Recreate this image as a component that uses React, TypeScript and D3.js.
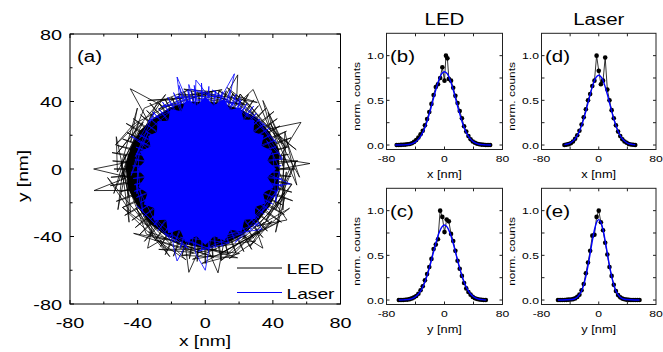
import * as d3 from 'd3'

const FONT = 'Liberation Sans, Arial, Helvetica, sans-serif'
const SX = 1.28 // glyphs in the figure are wider than plain Arial

// ---- panel (a): trajectories, polar [deg, r(nm)] ----
// dense part of the LED trace
const ledCore: [number, number][] = [
  [0, 44], [15, 45], [30, 44], [45, 43], [60, 41], [75, 40], [90, 40], [105, 41],
  [120, 42], [135, 43], [150, 45], [165, 46], [180, 47], [195, 47], [210, 46], [225, 46],
  [240, 46], [255, 46], [270, 47], [285, 46], [300, 45], [315, 44], [330, 44], [345, 45],
]
// jumps across the spot: each vertex leaves one hair at the rim
const ledHairs: [number, number][] = [
  [0, 53], [175, 55], [350, 52], [165, 54], [340, 55], [155, 51], [330, 54], [145, 52], [320, 51], [135, 49],
  [310, 53], [125, 48], [300, 55], [115, 47], [290, 53], [105, 47], [280, 55], [95, 45], [270, 56], [85, 46],
  [260, 54], [75, 48], [250, 55], [65, 49], [240, 53], [55, 50], [230, 56], [45, 51], [220, 54], [35, 52],
  [210, 55], [25, 53], [200, 56], [15, 51], [190, 57], [5, 55], [180, 54], [355, 51], [170, 56], [345, 53],
  [160, 52], [335, 50], [150, 54], [325, 55], [140, 50], [315, 52], [130, 51], [305, 50], [120, 48], [295, 54],
  [110, 46], [285, 52], [100, 47], [275, 53], [90, 46], [265, 55], [80, 47], [255, 53], [70, 48], [245, 56],
  [60, 51], [235, 52], [50, 49], [225, 55], [40, 53], [215, 53], [30, 51], [205, 54], [20, 54], [195, 52],
  [10, 50], [185, 56], [0, 53],
]
// jagged rim of the LED trace
const ledRing: [number, number][] = [
  [0, 50], [28, 46], [12, 55], [40, 44], [65, 49], [47, 43], [80, 47], [58, 45], [95, 42], [110, 47],
  [88, 44], [125, 49], [140, 44], [118, 50], [150, 47], [170, 53], [143, 46], [182, 52], [160, 56], [200, 48],
  [175, 50], [215, 55], [190, 47], [228, 52], [250, 46], [222, 57], [262, 50], [240, 55], [278, 48], [255, 53],
  [290, 56], [270, 47], [305, 52], [285, 55], [318, 47], [300, 50], [335, 55], [312, 46], [350, 52], [330, 48],
  [5, 54], [345, 47], [20, 51], [355, 56], [35, 47], [15, 49], [50, 53], [30, 45], [70, 47], [52, 50],
  [90, 45], [72, 43], [105, 49], [85, 46], [128, 45], [102, 48], [135, 51], [160, 47], [138, 54], [178, 50],
  [155, 45], [195, 56], [170, 48], [210, 51], [185, 58], [225, 48], [205, 54], [245, 53], [220, 46], [258, 55],
  [236, 51], [275, 52], [252, 48], [292, 54], [268, 56], [310, 49], [280, 51], [325, 54], [298, 47], [340, 50],
  [318, 56], [358, 48], [332, 52], [10, 47], [350, 55], [25, 52], [2, 46], [42, 50], [18, 48], [55, 46],
  [75, 50], [60, 44], [100, 45], [78, 48], [115, 46], [130, 53], [108, 44], [148, 50], [165, 55], [145, 48],
  [188, 50], [168, 46], [205, 57], [182, 49], [232, 50], [210, 47], [248, 56], [228, 50], [268, 49], [246, 47],
  [286, 52], [262, 54], [302, 46], [280, 55], [322, 50], [300, 53], [344, 49], [320, 47], [0, 50],
]
// far excursions of the LED trace
const ledWalk: [number, number][] = [
  [0, 44], [3, 62], [8, 44], [26, 63], [32, 45], [59, 55], [64, 42], [71, 59], [76, 41], [124, 45],
  [133, 65], [140, 44], [175, 46], [180, 66], [186, 46], [191, 67], [196, 46], [228, 47], [234, 58], [240, 47],
  [256, 48], [261, 62], [266, 47], [272, 48], [277, 62], [283, 47], [300, 46], [306, 58], [311, 45], [320, 50],
  [328, 57], [334, 46], [352, 46], [357, 44],
]
// dense part of the laser trace (jagged edge)
const laserCore: [number, number][] = [
  [0, 42], [7.5, 37], [15, 41], [22.5, 36], [30, 40], [37.5, 36], [45, 41], [52.5, 37], [60, 42], [67.5, 38],
  [75, 43], [82.5, 38], [90, 43], [97.5, 38], [105, 43], [112.5, 37], [120, 41], [127.5, 36], [135, 40], [142.5, 36],
  [150, 39], [157.5, 35], [165, 40], [172.5, 36], [180, 40], [187.5, 36], [195, 41], [202.5, 37], [210, 42], [217.5, 38],
  [225, 43], [232.5, 38], [240, 44], [247.5, 39], [255, 45], [262.5, 40], [270, 45], [277.5, 40], [285, 44], [292.5, 39],
  [300, 43], [307.5, 38], [315, 42], [322.5, 37], [330, 41], [337.5, 37], [345, 42], [352.5, 37],
]
const laserHairs: [number, number][] = [
  [2.5, 45], [177.5, 43], [352.5, 46], [167.5, 42], [342.5, 44], [157.5, 43], [332.5, 45], [147.5, 42], [322.5, 44], [137.5, 44],
  [312.5, 46], [127.5, 45], [302.5, 44], [117.5, 48], [292.5, 45], [107.5, 52], [282.5, 47], [97.5, 50], [272.5, 48], [87.5, 49],
  [262.5, 47], [77.5, 47], [252.5, 49], [67.5, 48], [242.5, 45], [57.5, 46], [232.5, 46], [47.5, 45], [222.5, 44], [37.5, 44],
  [212.5, 45], [27.5, 43], [202.5, 44], [17.5, 44], [192.5, 43], [7.5, 46], [182.5, 44], [357.5, 44], [172.5, 42], [347.5, 47],
  [162.5, 43], [337.5, 44], [152.5, 44], [327.5, 45], [142.5, 43], [317.5, 43], [132.5, 46], [307.5, 45], [122.5, 47], [297.5, 44],
  [112.5, 49], [287.5, 46], [102.5, 48], [277.5, 47], [92.5, 51], [267.5, 48], [82.5, 47], [257.5, 46], [72.5, 49], [247.5, 47],
  [62.5, 46], [237.5, 44], [52.5, 47], [227.5, 45], [42.5, 44], [217.5, 46], [32.5, 45], [207.5, 43], [22.5, 45], [197.5, 44],
  [12.5, 44], [187.5, 43], [2.5, 45],
]
const laserRing: [number, number][] = [
  [0, 44], [25, 40], [8, 46], [40, 42], [20, 45], [55, 41], [35, 44], [70, 46], [50, 40], [85, 47],
  [65, 42], [100, 48], [78, 44], [112, 46], [92, 41], [125, 45], [105, 43], [140, 44], [120, 40], [155, 43],
  [132, 45], [170, 42], [148, 40], [185, 44], [162, 41], [200, 43], [178, 40], [215, 45], [192, 42], [230, 44],
  [208, 46], [245, 47], [222, 42], [258, 48], [238, 45], [272, 47], [250, 43], [288, 46], [265, 49], [300, 44],
  [280, 42], [315, 45], [292, 47], [330, 43], [308, 41], [345, 45], [322, 42], [358, 44], [335, 46], [12, 41],
]
const laserWalk: [number, number][] = [
  [60, 38], [64, 47], [70, 38], [73, 59], [80, 38], [96, 53], [99, 38], [101, 51], [104, 38], [107, 57],
  [112, 38], [157, 38], [156, 48], [160, 37], [240, 40], [248, 50], [253, 57], [258, 40], [264, 51], [270, 60],
  [275, 40], [313, 49], [318, 38], [345, 38], [350, 51], [355, 38],
]

// ---- panels (b)-(e): histograms [nm, norm. counts] and gaussian fits ----
const histLedX: [number, number][] = [
  [-66, 0], [-63, 0], [-60, 0.002], [-57, 0.003], [-54, 0.005], [-51, 0.008], [-48, 0.012], [-45, 0.02],
  [-42, 0.035], [-39, 0.055], [-36, 0.085], [-33, 0.12], [-30, 0.16], [-27, 0.22], [-24, 0.29], [-21, 0.37],
  [-18, 0.46], [-15, 0.56], [-12, 0.65], [-9, 0.68], [-6, 0.75], [-3, 0.87], [0, 0.72], [2, 1.0], [4, 0.97],
  [6, 0.74], [9, 0.72], [12, 0.64], [15, 0.55], [18, 0.47], [21, 0.38], [24, 0.30], [27, 0.21], [30, 0.15],
  [33, 0.10], [36, 0.065], [39, 0.04], [42, 0.025], [45, 0.015], [48, 0.008], [51, 0.005], [54, 0.003],
  [57, 0.001], [60, 0], [63, 0],
]
const fitLedX: [number, number][] = [
  [-68, 0], [-56, 0.002], [-52, 0.004], [-48, 0.009], [-44, 0.019], [-40, 0.036], [-36, 0.066], [-32, 0.111],
  [-28, 0.177], [-24, 0.267], [-20, 0.376], [-16, 0.498], [-12, 0.619], [-8, 0.723], [-4, 0.795], [0, 0.82],
  [4, 0.795], [8, 0.723], [12, 0.619], [16, 0.498], [20, 0.376], [24, 0.267], [28, 0.177], [32, 0.111],
  [36, 0.066], [40, 0.036], [44, 0.019], [48, 0.009], [52, 0.004], [56, 0.002], [64, 0],
]
const histLaserX: [number, number][] = [
  [-48, 0], [-45, 0.005], [-42, 0.01], [-39, 0.02], [-36, 0.04], [-33, 0.07], [-30, 0.11], [-27, 0.16],
  [-24, 0.23], [-21, 0.31], [-18, 0.40], [-15, 0.50], [-12, 0.57], [-9, 0.66], [-6, 0.72], [-3, 1.0],
  [0, 0.83], [3, 0.68], [6, 0.72], [9, 0.98], [12, 0.62], [15, 0.50], [18, 0.39], [21, 0.30], [24, 0.22],
  [27, 0.15], [30, 0.10], [33, 0.065], [36, 0.04], [39, 0.025], [42, 0.012], [45, 0.006], [48, 0.003], [51, 0],
]
const fitLaserX: [number, number][] = [
  [-48, 0.005], [-44, 0.011], [-40, 0.022], [-36, 0.044], [-32, 0.08], [-28, 0.137], [-24, 0.217], [-20, 0.321],
  [-16, 0.441], [-12, 0.566], [-8, 0.676], [-4, 0.753], [0, 0.78], [4, 0.753], [8, 0.676], [12, 0.566],
  [16, 0.441], [20, 0.321], [24, 0.217], [28, 0.137], [32, 0.08], [36, 0.044], [40, 0.022], [44, 0.011],
  [48, 0.005], [51, 0.003],
]
const histLedY: [number, number][] = [
  [-63, 0], [-60, 0], [-57, 0], [-54, 0.003], [-51, 0.005], [-48, 0.01], [-45, 0.018], [-42, 0.03],
  [-39, 0.045], [-36, 0.07], [-33, 0.11], [-30, 0.155], [-27, 0.22], [-24, 0.29], [-21, 0.37], [-18, 0.46],
  [-15, 0.57], [-12, 0.62], [-9, 0.68], [-6, 1.0], [-3, 0.93], [0, 0.76], [3, 0.90], [6, 0.88], [9, 0.74],
  [12, 0.66], [15, 0.55], [18, 0.44], [21, 0.35], [24, 0.27], [27, 0.19], [30, 0.13], [33, 0.09], [36, 0.06],
  [39, 0.035], [42, 0.02], [45, 0.012], [48, 0.006], [51, 0.003], [54, 0], [57, 0],
]
const fitLedY: [number, number][] = [
  [-63, 0], [-56, 0.002], [-52, 0.004], [-48, 0.009], [-44, 0.019], [-40, 0.037], [-36, 0.067], [-32, 0.113],
  [-28, 0.181], [-24, 0.273], [-20, 0.385], [-16, 0.51], [-12, 0.634], [-8, 0.741], [-4, 0.814], [0, 0.84],
  [4, 0.814], [8, 0.741], [12, 0.634], [16, 0.51], [20, 0.385], [24, 0.273], [28, 0.181], [32, 0.113],
  [36, 0.067], [40, 0.037], [44, 0.019], [48, 0.009], [52, 0.004], [57, 0.001],
]
const histLaserY: [number, number][] = [
  [-57, 0], [-54, 0], [-51, 0], [-48, 0], [-45, 0.002], [-42, 0.004], [-39, 0.006], [-36, 0.01], [-33, 0.018],
  [-30, 0.035], [-27, 0.06], [-24, 0.11], [-21, 0.18], [-18, 0.30], [-15, 0.42], [-12, 0.55], [-9, 0.72],
  [-6, 0.73], [-3, 0.93], [0, 1.0], [3, 0.87], [6, 0.78], [9, 0.64], [12, 0.51], [15, 0.37], [18, 0.27],
  [21, 0.17], [24, 0.10], [27, 0.055], [30, 0.03], [33, 0.016], [36, 0.008], [39, 0.004], [42, 0.002],
  [45, 0], [48, 0], [51, 0], [54, 0], [57, 0],
]
const fitLaserY: [number, number][] = [
  [-57, 0], [-45, 0.003], [-39, 0.006], [-36, 0.009], [-33, 0.017], [-30, 0.032], [-27, 0.06], [-24, 0.102],
  [-21, 0.17], [-18, 0.265], [-15, 0.384], [-12, 0.522], [-9, 0.662], [-6, 0.786], [-3, 0.87], [0, 0.9],
  [3, 0.87], [6, 0.786], [9, 0.662], [12, 0.522], [15, 0.384], [18, 0.265], [21, 0.17], [24, 0.102],
  [27, 0.06], [30, 0.032], [33, 0.017], [36, 0.009], [39, 0.006], [45, 0.003], [57, 0],
]

const mainTicks = [-80, -40, 0, 40, 80]
const mainMinor = [-60, -20, 20, 60]
const histXLabels = [-80, 0, 80]
const histXTicks = [-40, 0, 40]
const histYLabels = [0, 0.5, 1.0]
const histYTicks = [0, 0.25, 0.5, 0.75, 1.0]

const BLUE = '#0000ff'
const polar = (p: [number, number]): [number, number] => {
  const a = (p[0] * Math.PI) / 180
  return [p[1] * Math.cos(a), p[1] * Math.sin(a)]
}

function Txt({ x, y, size, anchor = 'start', rot = 0, children }: any) {
  return (
    <text transform={`translate(${x},${y}) rotate(${rot}) scale(${SX},1)`}
      fontSize={size} textAnchor={anchor} fontFamily={FONT} fill="#000">{children}</text>
  )
}

function Hist({ l, r, t, b, hist, fit, tag, xlabel }: any) {
  const x = d3.scaleLinear().domain([-80, 80]).range([l, r])
  const y = d3.scaleLinear().domain([-0.05, 1.25]).range([b, t])
  const line = d3.line<[number, number]>().x(d => x(d[0])).y(d => y(d[1]))
  const fitLine = d3.line<[number, number]>().x(d => x(d[0])).y(d => y(d[1])).curve(d3.curveMonotoneX)
  return (
    <g>
      <path d={line(hist)!} fill="none" stroke="#000" strokeWidth={0.8} />
      {hist.map((d: [number, number], i: number) => (
        <circle key={i} cx={x(d[0])} cy={y(d[1])} r={2.3} fill="#000" />
      ))}
      <path d={fitLine(fit)!} fill="none" stroke={BLUE} strokeWidth={1.4} />
      <rect x={l} y={t} width={r - l} height={b - t} fill="none" stroke="#222" strokeWidth={1} />
      {histXTicks.map(v => (
        <g key={'x' + v}>
          <line x1={x(v)} x2={x(v)} y1={b} y2={b - 3} stroke="#222" />
          <line x1={x(v)} x2={x(v)} y1={t} y2={t + 3} stroke="#222" />
        </g>
      ))}
      {histYTicks.map(v => (
        <g key={'y' + v}>
          <line x1={l} x2={l + 3} y1={y(v)} y2={y(v)} stroke="#222" />
          <line x1={r} x2={r - 3} y1={y(v)} y2={y(v)} stroke="#222" />
        </g>
      ))}
      {histXLabels.map(v => (
        <Txt key={'xl' + v} x={x(v)} y={b + 12} size={9.5} anchor="middle">{v}</Txt>
      ))}
      {histYLabels.map(v => (
        <Txt key={'yl' + v} x={l - 2.5} y={y(v) + 3.6} size={9.5} anchor="end">{v.toFixed(1)}</Txt>
      ))}
      <Txt x={(l + r) / 2} y={b + 28} size={10} anchor="middle">{xlabel}</Txt>
      <Txt x={l - 27} y={(t + b) / 2 + 5} size={9.3} anchor="middle" rot={-90}>norm. counts</Txt>
      <Txt x={l + 3.5} y={t + 28.5} size={16}>{tag}</Txt>
    </g>
  )
}

export default function App() {
  const x = d3.scaleLinear().domain([-80, 80]).range([70, 340.5])
  const y = d3.scaleLinear().domain([-80, 80]).range([304, 34])
  const path = d3.line<[number, number]>().x(d => x(d[0])).y(d => y(d[1]))
  const closed = d3.line<[number, number]>().x(d => x(d[0])).y(d => y(d[1])).curve(d3.curveLinearClosed)

  return (
    <svg width={663} height={352} style={{ position: 'absolute', left: 0, top: 0, background: '#fff' }}>
      {/* (a) trajectories */}
      <g strokeLinejoin="miter" strokeMiterlimit={40}>
        <path d={closed(ledCore.map(polar))!} fill="#000" />
        <path d={path(ledHairs.map(polar))!} fill="none" stroke="#000" strokeWidth={0.75} />
        <path d={path(ledRing.map(polar))!} fill="none" stroke="#000" strokeWidth={0.75} />
        <path d={path(ledWalk.map(polar))!} fill="none" stroke="#000" strokeWidth={0.8} />
        <path d={closed(laserCore.map(polar))!} fill={BLUE} />
        <path d={path(laserHairs.map(polar))!} fill="none" stroke={BLUE} strokeWidth={0.75} />
        <path d={path(laserRing.map(polar))!} fill="none" stroke={BLUE} strokeWidth={0.75} />
        <path d={path(laserWalk.map(polar))!} fill="none" stroke={BLUE} strokeWidth={0.8} />
      </g>
      <rect x={70} y={34} width={270.5} height={270} fill="none" stroke="#000" strokeWidth={1} />
      {mainTicks.map(v => (
        <g key={'m' + v}>
          <line x1={x(v)} x2={x(v)} y1={304} y2={300} stroke="#000" />
          <line x1={x(v)} x2={x(v)} y1={34} y2={38} stroke="#000" />
          <line x1={70} x2={74} y1={y(v)} y2={y(v)} stroke="#000" />
          <line x1={340.5} x2={336.5} y1={y(v)} y2={y(v)} stroke="#000" />
          <Txt x={x(v)} y={328} size={15.5} anchor="middle">{v}</Txt>
          <Txt x={62} y={y(v) + 5.5} size={15.5} anchor="end">{v}</Txt>
        </g>
      ))}
      {mainMinor.map(v => (
        <g key={'n' + v}>
          <line x1={x(v)} x2={x(v)} y1={304} y2={301.5} stroke="#000" />
          <line x1={x(v)} x2={x(v)} y1={34} y2={36.5} stroke="#000" />
          <line x1={70} x2={72.5} y1={y(v)} y2={y(v)} stroke="#000" />
          <line x1={340.5} x2={338} y1={y(v)} y2={y(v)} stroke="#000" />
        </g>
      ))}
      <Txt x={205} y={346} size={15} anchor="middle">x [nm]</Txt>
      <Txt x={27.5} y={176} size={15} anchor="middle" rot={-90}>y [nm]</Txt>
      <Txt x={77} y={61.5} size={16}>(a)</Txt>
      {/* legend */}
      <line x1={237} x2={282} y1={268} y2={268} stroke="#000" strokeWidth={1} />
      <Txt x={286.5} y={274} size={15}>LED</Txt>
      <line x1={237} x2={282} y1={292.5} y2={292.5} stroke={BLUE} strokeWidth={1} />
      <Txt x={286.5} y={298.5} size={15}>Laser</Txt>

      {/* column titles */}
      <Txt x={444.5} y={25} size={16} anchor="middle">LED</Txt>
      <Txt x={598.8} y={25} size={16} anchor="middle">Laser</Txt>

      <Hist l={386.5} r={502.5} t={33.3} b={149.5} hist={histLedX} fit={fitLedX} tag="(b)" xlabel="x [nm]" />
      <Hist l={541.5} r={656} t={33.3} b={149.5} hist={histLaserX} fit={fitLaserX} tag="(d)" xlabel="x [nm]" />
      <Hist l={386.5} r={502.5} t={188.3} b={304.5} hist={histLedY} fit={fitLedY} tag="(c)" xlabel="y [nm]" />
      <Hist l={541.5} r={656} t={188.3} b={304.5} hist={histLaserY} fit={fitLaserY} tag="(e)" xlabel="y [nm]" />
    </svg>
  )
}
